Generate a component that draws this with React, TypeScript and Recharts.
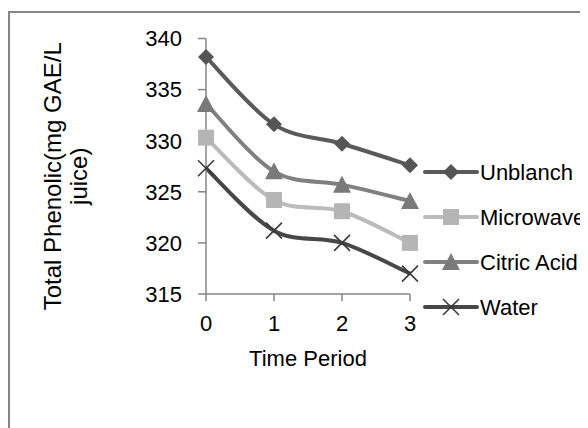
import React from 'react';
import { LineChart, Line, XAxis, YAxis, Legend, Label } from 'recharts';

const timePeriods = [0, 1, 2, 3];
const unblanch = [338.2, 331.6, 329.7, 327.6];
const microwave = [330.3, 324.2, 323.1, 320.0];
const citricAcid = [333.6, 327.0, 325.7, 324.1];
const water = [327.3, 321.2, 320.0, 317.0];
const yTicks = [315, 320, 325, 330, 335, 340];
const seriesNames = ['Unblanch', 'Microwave', 'Citric Acid', 'Water'];

const data = timePeriods.map((t, i) => ({
  time: t,
  Unblanch: unblanch[i],
  Microwave: microwave[i],
  'Citric Acid': citricAcid[i],
  Water: water[i],
}));

const FONT = '"Liberation Sans", Arial, sans-serif';
const AXIS = '#868686';

const styles: Record<string, { color: string; marker: string; markerColor: string }> = {
  Unblanch: { color: '#5a5a5a', marker: 'diamond', markerColor: '#555555' },
  Microwave: { color: '#bbbbbb', marker: 'square', markerColor: '#b5b5b5' },
  'Citric Acid': { color: '#808080', marker: 'triangle', markerColor: '#7a7a7a' },
  Water: { color: '#474747', marker: 'cross', markerColor: '#3a3a3a' },
};

// Excel-like smoothing (Catmull-Rom to Bezier)
const excelCurve: any = (context: any) => {
  let pts: number[][] = [];
  return {
    areaStart() {},
    areaEnd() {},
    lineStart() {
      pts = [];
    },
    lineEnd() {
      const n = pts.length;
      if (!n) return;
      context.moveTo(pts[0][0], pts[0][1]);
      for (let i = 0; i < n - 1; i++) {
        const p0 = pts[Math.max(i - 1, 0)];
        const p1 = pts[i];
        const p2 = pts[i + 1];
        const p3 = pts[Math.min(i + 2, n - 1)];
        const t = 1 / 6;
        context.bezierCurveTo(
          p1[0] + (p2[0] - p0[0]) * t,
          p1[1] + (p2[1] - p0[1]) * t,
          p2[0] - (p3[0] - p1[0]) * t,
          p2[1] - (p3[1] - p1[1]) * t,
          p2[0],
          p2[1]
        );
      }
    },
    point(x: number, y: number) {
      pts.push([+x, +y]);
    },
  };
};

function Marker({ kind, cx, cy, color }: { kind: string; cx: number; cy: number; color: string }) {
  if (kind === 'diamond') {
    const r = 8;
    return <polygon points={`${cx},${cy - r} ${cx + r},${cy} ${cx},${cy + r} ${cx - r},${cy}`} fill={color} />;
  }
  if (kind === 'square') {
    const s = 8;
    return <rect x={cx - s} y={cy - s} width={2 * s} height={2 * s} fill={color} />;
  }
  if (kind === 'triangle') {
    const h = 9;
    return <polygon points={`${cx},${cy - h} ${cx + h},${cy + h - 1} ${cx - h},${cy + h - 1}`} fill={color} />;
  }
  const r = 8;
  return (
    <g stroke={color} strokeWidth={1.6}>
      <line x1={cx - r} y1={cy - r} x2={cx + r} y2={cy + r} />
      <line x1={cx - r} y1={cy + r} x2={cx + r} y2={cy - r} />
    </g>
  );
}

const makeDot = (name: string) => (props: any) => {
  const { cx, cy, index } = props;
  if (cx == null || cy == null) return <g key={`${name}-${index}`} />;
  return (
    <g key={`${name}-${index}`}>
      <Marker kind={styles[name].marker} cx={cx} cy={cy} color={styles[name].markerColor} />
    </g>
  );
};

const renderLegend = () => (
  <svg width={176} height={180} style={{ overflow: 'visible' }}>
    {seriesNames.map((name, i) => {
      const y = 24 + i * 45;
      return (
        <g key={name}>
          <line x1={5} x2={57} y1={y} y2={y} stroke={styles[name].color} strokeWidth={4} strokeLinecap="round" />
          <Marker kind={styles[name].marker} cx={31} cy={y} color={styles[name].markerColor} />
          <text x={60} y={y} dy="0.36em" fontSize={22} fontFamily={FONT} fill="#000">
            {name}
          </text>
        </g>
      );
    })}
  </svg>
);

const YTitle = (props: any) => {
  const vb = props.viewBox || { x: 0, y: 30, width: 198, height: 256 };
  const cy = vb.y + vb.height / 2 + 10;
  const x1 = 53;
  const x2 = 79;
  return (
    <g fontFamily={FONT} fontSize={24} fill="#000">
      <text x={x1} y={cy} textAnchor="middle" transform={`rotate(-90 ${x1} ${cy})`}>
        Total Phenolic(mg GAE/L
      </text>
      <text x={x2} y={cy} textAnchor="middle" transform={`rotate(-90 ${x2} ${cy})`}>
        juice)
      </text>
    </g>
  );
};

const XTitle = (props: any) => {
  const vb = props.viewBox || { x: 198, y: 286, width: 204, height: 60 };
  const cx = vb.x + vb.width / 2;
  return (
    <text x={cx} y={vb.y + 72} textAnchor="middle" fontFamily={FONT} fontSize={22} fill="#000">
      Time Period
    </text>
  );
};

export default function App() {
  return (
    <div style={{ position: 'relative', width: 580, height: 420, overflow: 'hidden', background: '#fff' }}>
      <div
        style={{
          position: 'absolute',
          left: 0,
          top: 3,
          width: 600,
          height: 440,
          borderTop: `2px solid ${AXIS}`,
          borderLeft: `2px solid ${AXIS}`,
          boxSizing: 'border-box',
        }}
      />
      <div style={{ position: 'absolute', left: 0, top: 0 }}>
        <LineChart width={580} height={420} data={data} margin={{ top: 30.5, right: 178, bottom: 74, left: 0 }}>
          <XAxis
            dataKey="time"
            type="number"
            domain={[0, 3]}
            ticks={timePeriods}
            allowDecimals={false}
            height={60}
            tickSize={7}
            tickMargin={14}
            axisLine={{ stroke: AXIS, strokeWidth: 1.5 }}
            tickLine={{ stroke: AXIS, strokeWidth: 1.5 }}
            tick={{ fill: '#000', fontSize: 22, fontFamily: FONT }}
          >
            <Label content={<XTitle />} />
          </XAxis>
          <YAxis
            type="number"
            domain={[315, 340]}
            ticks={yTicks}
            width={198}
            tickSize={8}
            tickMargin={16}
            axisLine={{ stroke: AXIS, strokeWidth: 1.5 }}
            tickLine={{ stroke: AXIS, strokeWidth: 1.5 }}
            tick={{ fill: '#000', fontSize: 22, fontFamily: FONT }}
          >
            <Label content={<YTitle />} />
          </YAxis>
          <Legend
            layout="vertical"
            align="center"
            verticalAlign="middle"
            wrapperStyle={{ left: 412, top: 140, width: 176 }}
            content={renderLegend}
          />
          {seriesNames.map((name) => (
            <Line
              key={name}
              dataKey={name}
              type={excelCurve}
              stroke={styles[name].color}
              strokeWidth={4}
              dot={makeDot(name)}
              activeDot={false}
              isAnimationActive={false}
            />
          ))}
        </LineChart>
      </div>
    </div>
  );
}
